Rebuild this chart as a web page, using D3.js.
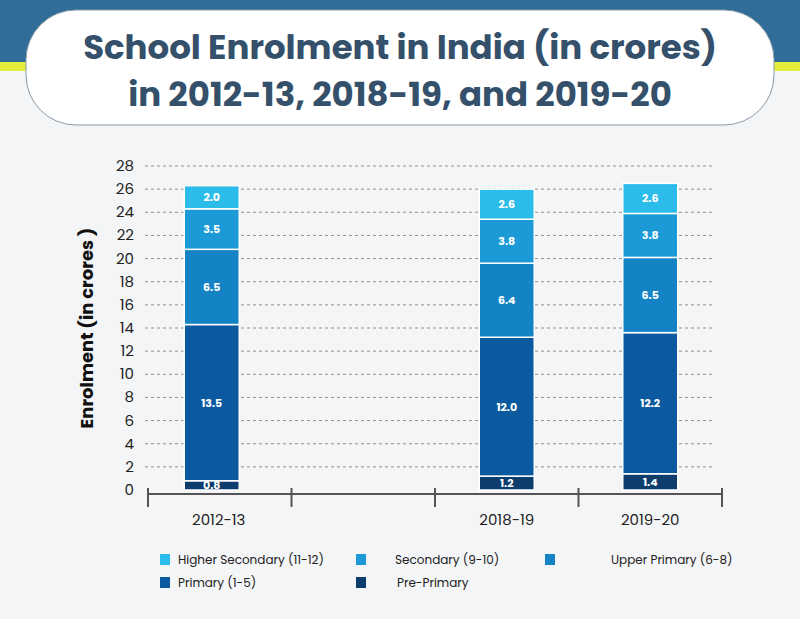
<!DOCTYPE html>
<html>
<head>
<meta charset="utf-8">
<script src="https://cdn.jsdelivr.net/npm/d3@7"></script>
<style>
body { margin: 0; background: #f3f4f6; }
svg { font-family: Poppins, "Noto Sans", Roboto, sans-serif; }
</style>
</head>
<body>
<svg id="chart" width="800" height="619"></svg>
<script>
// chart data
var years = ['2012-13', '', '2018-19', '2019-20'];
var seriesNames = ['Pre-Primary', 'Primary (1-5)', 'Upper Primary (6-8)', 'Secondary (9-10)', 'Higher Secondary (11-12)'];
var prePrimary = [0.8, null, 1.2, 1.4];
var primary = [13.5, null, 12.0, 12.2];
var upperPrimary = [6.5, null, 6.4, 6.5];
var secondary = [3.5, null, 3.8, 3.8];
var higherSecondary = [2.0, null, 2.6, 2.6];
var yTicks = d3.range(0, 29, 2);

var colors = ['#0c3d6c', '#0b5a9f', '#1483c5', '#1c9ad7', '#2cbce9'];
var allSeries = [prePrimary, primary, upperPrimary, secondary, higherSecondary];

const svg = d3.select('#chart');

// header band
svg.append('rect').attr('x', 0).attr('y', 0).attr('width', 800).attr('height', 64).attr('fill', '#2f6e99');
svg.append('rect').attr('x', 0).attr('y', 62).attr('width', 800).attr('height', 9).attr('fill', '#e4ee3a');
svg.append('rect').attr('x', 0).attr('y', 71).attr('width', 800).attr('height', 548).attr('fill', '#f4f5f7');
svg.append('rect').attr('x', 26).attr('y', 10).attr('width', 748).attr('height', 115).attr('rx', 50)
    .attr('fill', '#fff').attr('stroke', '#8a9aa8').attr('stroke-width', 1);
var title = svg.append('text').attr('text-anchor', 'middle').attr('fill', '#34506a')
    .style('font-size', '34px').style('font-weight', 'bold');
title.append('tspan').attr('x', 400).attr('y', 59).text('School Enrolment in India (in crores)');
title.append('tspan').attr('x', 400).attr('y', 106).text('in 2012-13, 2018-19, and 2019-20');

const x = d3.scaleBand().domain(years).range([148, 722]);
const y = d3.scaleLinear().domain([0, 28]).range([490, 166]);

// gridlines + y labels
svg.append('g').selectAll('line').data(yTicks.slice(1)).enter().append('line')
    .attr('x1', 145).attr('x2', 712)
    .attr('y1', d => y(d)).attr('y2', d => y(d))
    .attr('stroke', '#777').attr('stroke-dasharray', '3,3').attr('stroke-width', 0.8);
svg.append('g').selectAll('text').data(yTicks).enter().append('text')
    .attr('x', 134).attr('y', d => y(d) + 5).attr('text-anchor', 'end')
    .style('font-size', '15px').attr('fill', '#222').text(d => d);

svg.append('text').attr('transform', 'translate(93,328) rotate(-90)').attr('text-anchor', 'middle')
    .style('font-size', '18px').style('font-weight', 'bold').attr('fill', '#111')
    .text('Enrolment (in crores )');

// stacked bars (first bar sits a little left of its band centre)
var barW = 55;
var shift = [-8, 0, 0, 0];
years.forEach(function (yr, i) {
    if (!yr) return;
    var base = 0;
    allSeries.forEach(function (s, k) {
        var v = s[i];
        var cx = x(yr) + x.bandwidth() / 2 + shift[i];
        svg.append('rect').attr('x', cx - barW / 2).attr('y', y(base + v))
            .attr('width', barW).attr('height', y(base) - y(base + v))
            .attr('fill', colors[k]).attr('stroke', '#fff').attr('stroke-width', 1.5);
        svg.append('text').attr('x', cx).attr('y', (y(base) + y(base + v)) / 2 + 4)
            .attr('text-anchor', 'middle').attr('fill', '#fff')
            .style('font-size', '11px').style('font-weight', 'bold').text(v.toFixed(1));
        base += v;
    });
});

// x axis
var xa = svg.append('g');
xa.append('line').attr('x1', 148).attr('x2', 722).attr('y1', 494).attr('y2', 494).attr('stroke', '#555').attr('stroke-width', 2);
xa.selectAll('line.t').data(years.map(d => x(d)).concat([722])).enter().append('line')
    .attr('x1', d => d).attr('x2', d => d).attr('y1', 488).attr('y2', 507)
    .attr('stroke', '#555').attr('stroke-width', 2);
xa.selectAll('text').data(years.filter(d => d)).enter().append('text')
    .attr('x', (d, i) => x(d) + x.bandwidth() / 2 + (i === 0 ? -1 : 0)).attr('y', 525).attr('text-anchor', 'middle')
    .style('font-size', '15px').attr('fill', '#222').text(d => d);

// legend
var legend = [
    { k: 4, x: 160, y: 564, dx: 18 }, { k: 3, x: 356, y: 564, dx: 39 }, { k: 2, x: 545, y: 564, dx: 66 },
    { k: 1, x: 160, y: 587, dx: 18 }, { k: 0, x: 356, y: 587, dx: 41 }
];
var lg = svg.append('g').selectAll('g').data(legend).enter().append('g');
lg.append('rect').attr('x', d => d.x).attr('y', d => d.y - 10).attr('width', 10).attr('height', 11)
    .attr('fill', d => colors[d.k]);
lg.append('text').attr('x', d => d.x + d.dx).attr('y', d => d.y)
    .style('font-size', '12px').attr('fill', '#222').text(d => seriesNames[d.k]);
</script>
</body>
</html>
